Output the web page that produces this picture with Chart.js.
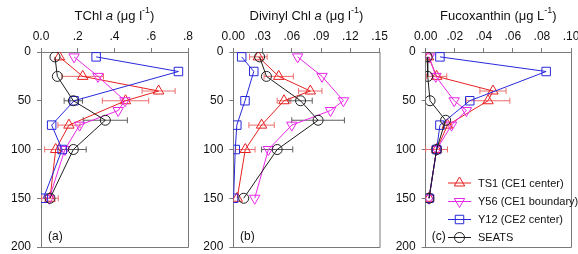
<!DOCTYPE html>
<html><head><meta charset="utf-8">
<script src="https://cdn.jsdelivr.net/npm/chart.js@4.4.1/dist/chart.umd.min.js"></script>
<style>
html,body{margin:0;padding:0;background:#fff;width:578px;height:254px;overflow:hidden;}
canvas{position:absolute;top:0;}
#ca{left:0px;} #cb{left:190px;} #cc{left:382px;}
</style></head><body>
<canvas id="ca" width="200" height="254" style="width:200px;height:254px"></canvas>
<canvas id="cb" width="202" height="254" style="width:202px;height:254px"></canvas>
<canvas id="cc" width="196" height="254" style="width:196px;height:254px"></canvas>
<script>
// ---------- data ----------
const seriesNames = ['TS1 (CE1 center)', 'Y56 (CE1 boundary)', 'Y12 (CE2 center)', 'SEATS'];

const depthTS1   = [5, 25, 40, 50, 75, 100, 150];
const depthY56   = [5, 25, 50, 60, 75, 100, 150];
const depthY12   = [5, 20, 50, 75, 100, 150];
const depthSEATS = [5, 25, 50, 70, 100, 150];

// (a) TChl a
const tchlTS1      = [0.10, 0.227, 0.64, 0.46, 0.152, 0.08, 0.049];
const tchlTS1Err   = [0, 0.113, 0.09, 0.126, 0.06, 0.06, 0.045];
const tchlY56      = [0.18, 0.31, 0.457, 0.42, 0.21, 0.13, 0.045];
const tchlY12      = [0.30, 0.748, 0.18, 0.058, 0.115, 0.013];
const tchlSEATS    = [0.076, 0.089, 0.176, 0.35, 0.176, 0.049];
const tchlSEATSErr = [0, 0, 0.05, 0.12, 0.07, 0];

// (b) Divinyl Chl a
const dvTS1      = [0.0257, 0.0466, 0.079, 0.052, 0.029, 0.0123, 0.004];
const dvTS1Err   = [0.009, 0.015, 0.012, 0.007, 0.013, 0.010, 0];
const dvY56      = [0.066, 0.091, 0.113, 0.0997, 0.060, 0.036, 0.022];
const dvY12      = [0.0086, 0.021, 0.012, 0.0036, 0.002, 0.0003];
const dvSEATS    = [0.027, 0.034, 0.069, 0.087, 0.045, 0.0107];
const dvSEATSErr = [0, 0, 0.012, 0.027, 0.016, 0];

// (c) Fucoxanthin
const fucoTS1      = [0.002, 0.0075, 0.0463, 0.0429, 0.015, 0.0075, 0.0023];
const fucoTS1Err   = [0, 0.007, 0.009, 0.015, 0.003, 0.0075, 0];
const fucoY56      = [0.0025, 0.007, 0.0196, 0.028, 0.0178, 0.0075, 0.0023];
const fucoY12      = [0.0098, 0.0829, 0.0303, 0.0098, 0.0075, 0.0023];
const fucoSEATS    = [0.001, 0.0014, 0.003, 0.0137, 0.0075, 0.0023];
const fucoSEATSErr = [0, 0, 0, 0, 0, 0];

// ticks
const depthTicks      = [0, 50, 100, 150, 200];
const depthTickLabels = ['0', '50', '100', '150', '200'];
const tchlTicks  = [0, 0.2, 0.4, 0.6, 0.8];
const tchlTickLabels = ['0.0', '.2', '.4', '.6', '.8'];
const dvTicks  = [0, 0.03, 0.06, 0.09, 0.12, 0.15];
const dvTickLabels = ['0.00', '.03', '.06', '.09', '.12', '.15'];
const fucoTicks  = [0, 0.02, 0.04, 0.06, 0.08, 0.10];
const fucoTickLabels = ['0.00', '.02', '.04', '.06', '.08', '.10'];

// titles (segments: text, style)
const titleA = [['TChl ', 'n'], ['a', 'i'], [' (\u03BCg l', 'n'], ['-1', 's'], [')', 'n']];
const titleB = [['Divinyl Chl ', 'n'], ['a', 'i'], [' (\u03BCg l', 'n'], ['-1', 's'], [')', 'n']];
const titleC = [['Fucoxanthin (\u03BCg L', 'n'], ['-1', 's'], [')', 'n']];

// ---------- styling ----------
const FONT = "'Liberation Sans', Arial, sans-serif";
const C_RED = 'rgb(232,32,32)', C_MAG = 'rgb(232,40,232)', C_BLUE = 'rgb(40,40,220)', C_BLK = 'rgb(30,30,30)';
const styles = [
  {color: C_RED,  pointStyle: 'triangle', radius: 6, rotation: 0},
  {color: C_MAG,  pointStyle: 'triangle', radius: 6, rotation: 180},
  {color: C_BLUE, pointStyle: 'rect',     radius: 6, rotation: 0},
  {color: C_BLK,  pointStyle: 'circle',   radius: 5, rotation: 0}
];
const AXIS = '#7a7a7a';

function drawMarker(ctx, st, x, y) {
  const r = st.radius;
  ctx.beginPath();
  if (st.pointStyle === 'circle') {
    ctx.arc(x, y, r, 0, Math.PI * 2);
  } else if (st.pointStyle === 'rect') {
    const s = r * Math.SQRT1_2;
    ctx.rect(x - s, y - s, 2 * s, 2 * s);
  } else {
    let rad = st.rotation * Math.PI / 180;
    ctx.moveTo(x + Math.sin(rad) * r, y - Math.cos(rad) * r);
    rad += 2 * Math.PI / 3;
    ctx.lineTo(x + Math.sin(rad) * r, y - Math.cos(rad) * r);
    rad += 2 * Math.PI / 3;
    ctx.lineTo(x + Math.sin(rad) * r, y - Math.cos(rad) * r);
    ctx.closePath();
  }
  ctx.stroke();
}

function makePanel(cfg) {
  const depths = [depthTS1, depthY56, depthY12, depthSEATS];
  const datasets = cfg.vals.map((v, k) => ({
    label: seriesNames[k],
    data: depths[k].map((d, i) => ({x: v[i], y: d})),
    showLine: true,
    borderColor: styles[k].color,
    backgroundColor: 'rgba(0,0,0,0)',
    borderWidth: 1,
    pointStyle: styles[k].pointStyle,
    pointRadius: styles[k].radius,
    pointRotation: styles[k].rotation,
    pointBorderColor: styles[k].color,
    pointBackgroundColor: 'rgba(0,0,0,0)',
    pointBorderWidth: 1,
    order: 4 - k
  }));

  const plugin = {
    id: 'panelDeco' + cfg.id,
    beforeDatasetsDraw(chart) {
      const ctx = chart.ctx, xs = chart.scales.x, ys = chart.scales.y;
      ctx.save();
      ctx.lineWidth = 1;
      cfg.errs.forEach(e => {
        ctx.strokeStyle = e.color;
        e.depths.forEach((d, i) => {
          const err = e.err[i];
          if (!err) return;
          const y = ys.getPixelForValue(d);
          const x1 = xs.getPixelForValue(e.vals[i] - err);
          const x2 = xs.getPixelForValue(e.vals[i] + err);
          ctx.beginPath();
          ctx.moveTo(x1, y); ctx.lineTo(x2, y);
          ctx.moveTo(x1, y - 3); ctx.lineTo(x1, y + 3);
          ctx.moveTo(x2, y - 3); ctx.lineTo(x2, y + 3);
          ctx.stroke();
        });
      });
      ctx.restore();
    },
    afterDraw(chart) {
      const ctx = chart.ctx, a = chart.chartArea;
      ctx.save();
      // right & bottom frame
      ctx.strokeStyle = AXIS; ctx.lineWidth = 1;
      ctx.beginPath();
      ctx.moveTo(a.right + 0.5, a.top); ctx.lineTo(a.right + 0.5, a.bottom + 0.5);
      ctx.lineTo(a.left, a.bottom + 0.5);
      ctx.stroke();
      // title
      const fonts = {n: '13px ' + FONT, i: 'italic 13px ' + FONT, s: '9px ' + FONT};
      let total = 0;
      cfg.title.forEach(s => { ctx.font = fonts[s[1]]; total += ctx.measureText(s[0]).width; });
      let x = (a.left + a.right) / 2 - total / 2;
      ctx.fillStyle = '#111';
      ctx.textBaseline = 'alphabetic';
      ctx.textAlign = 'left';
      cfg.title.forEach(s => {
        ctx.font = fonts[s[1]];
        ctx.fillText(s[0], x, s[1] === 's' ? 13 : 20);
        x += ctx.measureText(s[0]).width;
      });
      // panel tag
      ctx.font = '12px ' + FONT;
      ctx.textBaseline = 'middle';
      ctx.fillText(cfg.tag, cfg.tagX, 237);
      // legend
      if (cfg.legend) {
        const rows = [183, 201.5, 219.5, 237.5];
        ctx.font = '11px ' + FONT;
        rows.forEach((ry, k) => {
          ctx.strokeStyle = styles[k].color;
          ctx.lineWidth = 1;
          ctx.beginPath();
          ctx.moveTo(cfg.legX, ry); ctx.lineTo(cfg.legX + 23, ry);
          ctx.stroke();
          drawMarker(ctx, styles[k], cfg.legX + 11.5, ry);
          ctx.fillStyle = '#111';
          ctx.fillText(seriesNames[k], cfg.legX + 30, ry + 0.5);
        });
      }
      ctx.restore();
    }
  };

  return new Chart(document.getElementById(cfg.id), {
    type: 'scatter',
    data: {datasets},
    plugins: [plugin],
    options: {
      responsive: false,
      animation: false,
      events: [],
      layout: {padding: {left: 0, right: cfg.padR, top: 0, bottom: 5}},
      plugins: {legend: {display: false}, tooltip: {enabled: false}},
      scales: {
        x: {
          type: 'linear', position: 'top', min: 0, max: cfg.xMax,
          afterBuildTicks: s => { s.ticks = cfg.xTicks.map(v => ({value: v})); },
          afterFit: s => { s.height = 52; s.paddingLeft = 0; s.paddingRight = 0; },
          grid: {drawOnChartArea: false, drawTicks: true, tickLength: 4, color: AXIS},
          border: {display: true, color: AXIS},
          ticks: {font: {family: FONT, size: 12}, color: '#111', padding: 4, maxRotation: 0,
                  autoSkip: false, callback: (v, i) => cfg.xLabels[i]}
        },
        y: {
          type: 'linear', reverse: true, min: 0, max: 200,
          afterBuildTicks: s => { s.ticks = depthTicks.map(v => ({value: v})); },
          afterFit: s => { s.width = cfg.yAxisW; s.paddingTop = 0; s.paddingBottom = 0; },
          grid: {drawOnChartArea: false, drawTicks: true, tickLength: 4, color: AXIS},
          border: {display: true, color: AXIS},
          ticks: {font: {family: FONT, size: 12}, color: '#111', padding: 6,
                  autoSkip: false, callback: (v, i) => depthTickLabels[i]}
        }
      }
    }
  });
}

makePanel({id: 'ca', yAxisW: 41, padR: 12, xMax: 0.8, xTicks: tchlTicks, xLabels: tchlTickLabels,
  title: titleA, tag: '(a)', tagX: 48, legend: false,
  vals: [tchlTS1, tchlY56, tchlY12, tchlSEATS],
  errs: [{depths: depthTS1, vals: tchlTS1, err: tchlTS1Err, color: 'rgb(236,110,110)'},
         {depths: depthSEATS, vals: tchlSEATS, err: tchlSEATSErr, color: 'rgb(95,95,95)'}]});

makePanel({id: 'cb', yAxisW: 43.3, padR: 12.5, xMax: 0.15, xTicks: dvTicks, xLabels: dvTickLabels,
  title: titleB, tag: '(b)', tagX: 50, legend: false,
  vals: [dvTS1, dvY56, dvY12, dvSEATS],
  errs: [{depths: depthTS1, vals: dvTS1, err: dvTS1Err, color: 'rgb(236,110,110)'},
         {depths: depthSEATS, vals: dvSEATS, err: dvSEATSErr, color: 'rgb(95,95,95)'}]});

makePanel({id: 'cc', yAxisW: 43.7, padR: 6.3, xMax: 0.10, xTicks: fucoTicks, xLabels: fucoTickLabels,
  title: titleC, tag: '(c)', tagX: 49.7, legend: true, legX: 66,
  vals: [fucoTS1, fucoY56, fucoY12, fucoSEATS],
  errs: [{depths: depthTS1, vals: fucoTS1, err: fucoTS1Err, color: 'rgb(236,110,110)'},
         {depths: depthSEATS, vals: fucoSEATS, err: fucoSEATSErr, color: 'rgb(95,95,95)'}]});
</script>
</body></html>
